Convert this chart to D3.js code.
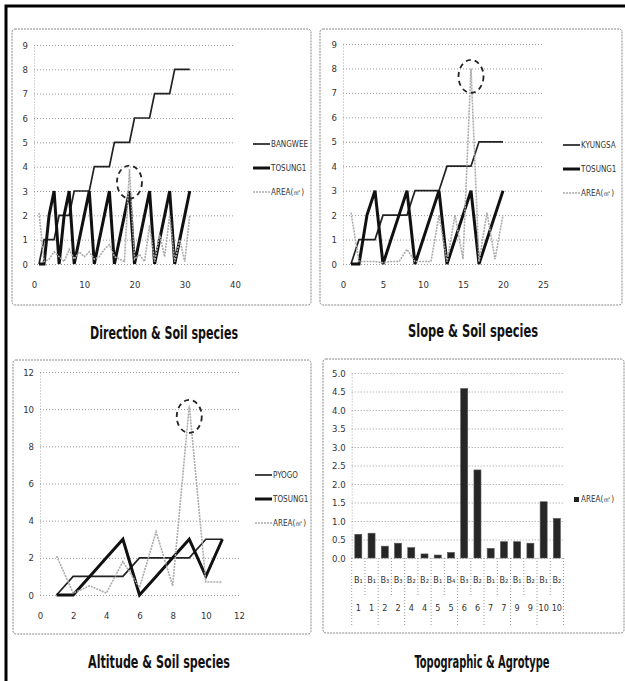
<!DOCTYPE html>
<html>
<head>
<meta charset="utf-8">
<script src="https://cdn.jsdelivr.net/npm/d3@7"></script>
<style>
body{margin:0;background:#fff}
svg{display:block}
text{font-family:"Liberation Sans Narrow","DejaVu Sans Condensed",sans-serif;fill:#333}
</style>
</head>
<body>
<script>
// ---- Direction & Soil species ----
var dirX = [1,2,3,4,5,6,7,8,9,10,11,12,13,14,15,16,17,18,19,20,21,22,23,24,25,26,27,28,29,30,31];
var dirBangwee = [0,1,1,1,2,2,2,3,3,3,3,4,4,4,4,5,5,5,5,6,6,6,6,7,7,7,7,8,8,8,8];
var dirTosung = [0,0,2,3,0,2,3,0,1,2,3,0,1,2,3,0,1,2,3,0,1,2,3,0,1,2,3,0,1,2,3];
var dirArea = [2.1,0.1,0.2,0.5,0.3,0.1,0.6,0.2,0.5,0.3,0.5,0.2,0.3,0.6,0.8,0.3,0.2,0.1,3.9,0.2,0.4,0.1,1.6,0.1,1.2,0.3,2.0,0.1,1.0,0.1,2.0];
var dirYTicks = [0,1,2,3,4,5,6,7,8,9];
var dirXTicks = [0,10,20,30,40];

// ---- Slope & Soil species ----
var slopeX = [1,2,3,4,5,6,7,8,9,10,11,12,13,14,15,16,17,18,19,20];
var slopeKyungsa = [0,1,1,1,2,2,2,2,3,3,3,3,4,4,4,4,5,5,5,5];
var slopeTosung = [0,0,2,3,0,1,2,3,0,1,2,3,0,1,2,3,0,1,2,3];
var slopeArea = [2.1,0.1,0.1,0.1,0.05,0.1,0.1,0.6,0.1,0.1,0.1,2.0,0.1,2.0,0.2,8.0,0.1,2.1,0.2,2.0];
var slopeYTicks = [0,1,2,3,4,5,6,7,8,9];
var slopeXTicks = [0,5,10,15,20,25];

// ---- Altitude & Soil species ----
var altX = [1,2,3,4,5,6,7,8,9,10,11];
var altPyogo = [0,1,1,1,1,2,2,2,2,3,3];
var altTosung = [0,0,1,2,3,0,1,2,3,1,3];
var altArea = [2.1,0.1,0.5,0.1,1.8,0.4,3.4,0.5,10.2,0.7,0.7];
var altYTicks = [0,2,4,6,8,10,12];
var altXTicks = [0,2,4,6,8,10,12];

// ---- Topographic & Agrotype ----
var topoType = ["B₁","B₁","B₃","B₃","B₂","B₂","B₁","B₄","B₃","B₂","B₁","B₂","B₁","B₂","B₁","B₂"];
var topoNum = ["1","1","2","2","4","4","5","5","6","6","7","7","9","9","10","10"];
var topoArea = [0.64,0.67,0.32,0.40,0.28,0.11,0.08,0.15,4.58,2.38,0.26,0.44,0.44,0.40,1.52,1.07];
var topoYTicks = [0,0.5,1,1.5,2,2.5,3,3.5,4,4.5,5];

var svg = d3.select("body").append("svg").attr("width",625).attr("height",681);
svg.append("rect").attr("width",625).attr("height",681).attr("fill","#fff");
svg.append("path").attr("d","M6,681V6H625").attr("fill","none").attr("stroke","#000").attr("stroke-width",3);

var styles = {
  thin: {stroke:"#222", width:1.7, dash:null},
  thick: {stroke:"#111", width:3, dash:null},
  area: {stroke:"#aaa", width:1.6, dash:"2,1"}
};

function panelBox(b){
  svg.append("rect").attr("x",b[0]).attr("y",b[1]).attr("width",b[2]-b[0]).attr("height",b[3]-b[1])
    .attr("fill","none").attr("stroke","#888").attr("stroke-dasharray","2,1").attr("rx",3);
}

function title(t,cx,by,len){
  svg.append("text").attr("x",cx).attr("y",by).attr("text-anchor","middle")
    .attr("font-size",17).attr("font-weight","bold").attr("textLength",len).attr("lengthAdjust","spacingAndGlyphs")
    .style("fill","#111").text(t);
}

function yAxisGrid(g,y,ticks,x0,x1,fmt){
  var ax = d3.axisLeft(y).tickValues(ticks).tickSizeInner(-(x1-x0)).tickSizeOuter(0).tickPadding(6);
  if(fmt) ax.tickFormat(fmt);
  var a = g.append("g").attr("transform","translate("+x0+",0)").call(ax);
  a.select(".domain").attr("stroke","#aaa").attr("stroke-dasharray","1,2");
  a.selectAll(".tick line").attr("stroke","#999").attr("stroke-dasharray","1,2");
  a.selectAll("text").attr("font-size",9.5).style("font-family",null);
  return a;
}

function linePanel(p){
  panelBox(p.box);
  var x = d3.scaleLinear().domain(p.xDomain).range(p.xRange);
  var y = d3.scaleLinear().domain(p.yDomain).range(p.yRange);
  var g = svg.append("g");
  yAxisGrid(g,y,p.yTicks,p.xRange[0],p.xRange[1]);
  var xa = g.append("g").attr("transform","translate(0,"+p.yRange[0]+")")
    .call(d3.axisBottom(x).tickValues(p.xTicks).tickSize(0).tickPadding(17));
  xa.select(".domain").remove();
  xa.selectAll("text").attr("font-size",9.5);

  p.series.forEach(function(s){
    var st = styles[s.style];
    var line = d3.line().x(function(d,i){return x(p.xs[i]);}).y(function(d){return y(d);});
    g.append("path").attr("d",line(s.values)).attr("fill","none")
      .attr("stroke",st.stroke).attr("stroke-width",st.width)
      .attr("stroke-dasharray",st.dash).attr("stroke-linejoin","miter");
  });

  // dashed ring around the AREA peak
  var area = p.series[2].values;
  var k = area.indexOf(d3.max(area));
  g.append("ellipse").attr("cx",x(p.xs[k])).attr("cy",y(area[k])+p.ringDrop)
    .attr("rx",12.5).attr("ry",16.5).attr("fill","none").attr("stroke","#222")
    .attr("stroke-width",1.8).attr("stroke-dasharray","5,4");

  // legend
  var lg = g.append("g");
  p.series.forEach(function(s,i){
    var st = styles[s.style];
    var ly = p.legend[1] + i*24;
    lg.append("line").attr("x1",p.legend[0]).attr("x2",p.legend[0]+17).attr("y1",ly).attr("y2",ly)
      .attr("stroke",st.stroke).attr("stroke-width",st.width).attr("stroke-dasharray",st.dash);
    lg.append("text").attr("x",p.legend[0]+18).attr("y",ly+3).attr("font-size",8).text(s.name);
  });
  title(p.title,p.titlePos[0],p.titlePos[1],p.titlePos[2]);
}

linePanel({
  box:[12,29,311,305], xs:dirX, xDomain:[0,40], xRange:[34,235], yDomain:[0,9], yRange:[264,45],
  yTicks:dirYTicks, xTicks:dirXTicks, ringDrop:13, legend:[253,144],
  series:[{name:"BANGWEE",values:dirBangwee,style:"thin"},{name:"TOSUNG1",values:dirTosung,style:"thick"},{name:"AREA(㎡)",values:dirArea,style:"area"}],
  title:"Direction & Soil species", titlePos:[164,339,148]
});
linePanel({
  box:[320,29,622,305], xs:slopeX, xDomain:[0,25], xRange:[343,543], yDomain:[0,9], yRange:[264,44],
  yTicks:slopeYTicks, xTicks:slopeXTicks, ringDrop:8, legend:[563,145],
  series:[{name:"KYUNGSA",values:slopeKyungsa,style:"thin"},{name:"TOSUNG1",values:slopeTosung,style:"thick"},{name:"AREA(㎡)",values:slopeArea,style:"area"}],
  title:"Slope & Soil species", titlePos:[473,337,130]
});
linePanel({
  box:[13,360,311,634], xs:altX, xDomain:[0,12], xRange:[40,239], yDomain:[0,12], yRange:[595,372],
  yTicks:altYTicks, xTicks:altXTicks, ringDrop:11, legend:[255,475],
  series:[{name:"PYOGO",values:altPyogo,style:"thin"},{name:"TOSUNG1",values:altTosung,style:"thick"},{name:"AREA(㎡)",values:altArea,style:"area"}],
  title:"Altitude & Soil species", titlePos:[159,668,142]
});

// ---- bar panel ----
(function(){
  panelBox([323,359,624,633]);
  var x0 = 351.7, x1 = 563.5;
  var x = d3.scaleBand().domain(topoArea.map(function(d,i){return i;})).range([x0,x1])
    .paddingInner(0.47).paddingOuter(0.235);
  var y = d3.scaleLinear().domain([0,5]).range([558,373]);
  var g = svg.append("g");
  yAxisGrid(g,y,topoYTicks,x0,x1,d3.format(".1f"));
  g.selectAll("rect.bar").data(topoArea).enter().append("rect").attr("class","bar")
    .attr("x",function(d,i){return x(i);}).attr("width",x.bandwidth())
    .attr("y",function(d){return y(d);}).attr("height",function(d){return y(0)-y(d);})
    .attr("fill","#262626").attr("stroke","#555").attr("stroke-width",0.6);

  var step = x.step();
  var row1 = 580, row2 = 608;
  g.selectAll("text.t1").data(topoType).enter().append("text")
    .attr("x",function(d,i){return x(i)+x.bandwidth()/2;}).attr("y",row1+3)
    .attr("text-anchor","middle").attr("font-size",9).text(function(d){return d;});
  g.selectAll("text.t2").data(topoNum).enter().append("text")
    .attr("x",function(d,i){return x(i)+x.bandwidth()/2;}).attr("y",row2+3)
    .attr("text-anchor","middle").attr("font-size",9).text(function(d){return d;});
  // separators
  var seps = topoArea.map(function(d,i){return i;}).concat([topoArea.length]);
  g.selectAll("line.sep").data(seps).enter().append("line")
    .attr("x1",function(i){return x0+i*step;}).attr("x2",function(i){return x0+i*step;})
    .attr("y1",y(0)).attr("y2",function(i){return (i===0||i===seps.length-1||topoNum[i]!==topoNum[i-1])?627:595;})
    .attr("stroke","#999").attr("stroke-dasharray","1,2");
  // legend
  g.append("rect").attr("x",574).attr("y",497).attr("width",5).attr("height",5).attr("fill","#222");
  g.append("text").attr("x",581).attr("y",502).attr("font-size",8).text("AREA(㎡)");
  title("Topographic & Agrotype",482,668,135);
})();
</script>
</body>
</html>
